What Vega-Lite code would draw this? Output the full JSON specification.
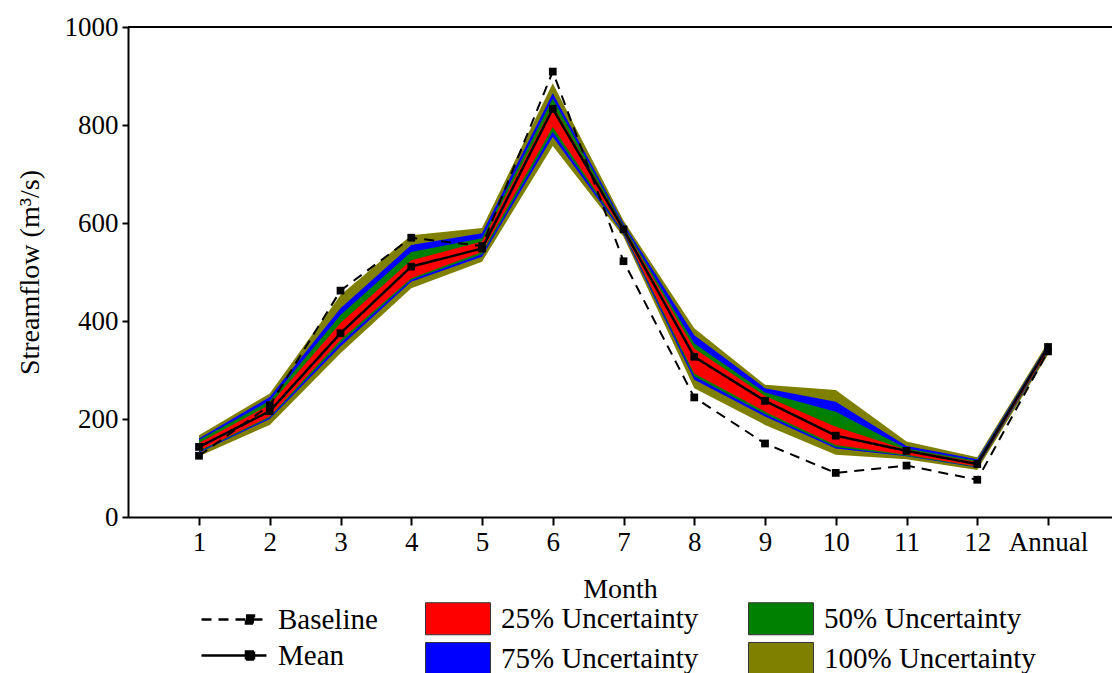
{
  "$schema": "https://vega.github.io/schema/vega-lite/v6.json",
  "width": 984,
  "height": 490,
  "autosize": {"type": "none"},
  "padding": {"left": 128, "top": 27, "right": 0, "bottom": 156},
  "background": "white",
  "config": {
    "view": {"stroke": null},
    "font": "Liberation Serif",
    "axis": {
      "labelFont": "Liberation Serif",
      "titleFont": "Liberation Serif",
      "labelColor": "black",
      "titleColor": "black",
      "domainColor": "black",
      "tickColor": "black",
      "domainWidth": 2,
      "tickWidth": 2,
      "grid": false,
      "labelFontSize": 27,
      "titleFontSize": 28,
      "titleFontWeight": "normal"
    },
    "legend": {
      "labelFont": "Liberation Serif",
      "labelFontSize": 29,
      "labelColor": "black",
      "labelLimit": 400
    }
  },
  "data": {
    "values": [
      {"month": "1", "base": 125, "mean": 143, "lo25": 135, "hi25": 151, "lo50": 133, "hi50": 157, "lo75": 131, "hi75": 160, "lo100": 124, "hi100": 167},
      {"month": "2", "base": 228, "mean": 216, "lo25": 205, "hi25": 229, "lo50": 203, "hi50": 237, "lo75": 200, "hi75": 245, "lo100": 188, "hi100": 252},
      {"month": "3", "base": 462, "mean": 375, "lo25": 361, "hi25": 396, "lo50": 355, "hi50": 412, "lo75": 348, "hi75": 426, "lo100": 334, "hi100": 453},
      {"month": "4", "base": 570, "mean": 511, "lo25": 487, "hi25": 524, "lo50": 484, "hi50": 541, "lo75": 480, "hi75": 555, "lo100": 467, "hi100": 575},
      {"month": "5", "base": 553, "mean": 548, "lo25": 541, "hi25": 562, "lo50": 536, "hi50": 569, "lo75": 531, "hi75": 579, "lo100": 521, "hi100": 590},
      {"month": "6", "base": 909, "mean": 833, "lo25": 796, "hi25": 840, "lo50": 786, "hi50": 854, "lo75": 776, "hi75": 865, "lo100": 757, "hi100": 885},
      {"month": "7", "base": 522, "mean": 587, "lo25": 582, "hi25": 592, "lo50": 580, "hi50": 595, "lo75": 577, "hi75": 599, "lo100": 572, "hi100": 605},
      {"month": "8", "base": 244, "mean": 327, "lo25": 293, "hi25": 344, "lo50": 287, "hi50": 354, "lo75": 280, "hi75": 371, "lo100": 263, "hi100": 385},
      {"month": "9", "base": 150, "mean": 237, "lo25": 215, "hi25": 247, "lo50": 210, "hi50": 254, "lo75": 205, "hi75": 263, "lo100": 188, "hi100": 270},
      {"month": "10", "base": 90, "mean": 166, "lo25": 147, "hi25": 184, "lo50": 143, "hi50": 215, "lo75": 140, "hi75": 235, "lo100": 127, "hi100": 259},
      {"month": "11", "base": 105, "mean": 135, "lo25": 127, "hi25": 137, "lo50": 125, "hi50": 140, "lo75": 124, "hi75": 145, "lo100": 118, "hi100": 154},
      {"month": "12", "base": 76, "mean": 108, "lo25": 103, "hi25": 112, "lo50": 102, "hi50": 115, "lo75": 101, "hi75": 118, "lo100": 96, "hi100": 122},
      {"month": "Annual", "base": 338, "mean": 347, "lo25": 340, "hi25": 349, "lo50": 338, "hi50": 351, "lo75": 336, "hi75": 353, "lo100": 331, "hi100": 357}
    ]
  },
  "layer": [
    {
      "mark": {"type": "area", "opacity": 1},
      "encoding": {
        "x": {
          "field": "month",
          "type": "ordinal",
          "sort": null,
          "scale": {"type": "point", "padding": 0.954, "align": 0.526},
          "axis": {
            "title": "Month",
            "labelAngle": 0,
            "tickSize": 8,
            "labelPadding": 4,
            "titlePadding": 20
          }
        },
        "y": {
          "field": "lo100",
          "type": "quantitative",
          "scale": {"domain": [0, 1000], "nice": false},
          "axis": {
            "title": "Streamflow (m³/s)",
            "values": [0, 200, 400, 600, 800, 1000],
            "format": "d",
            "tickSize": 6,
            "labelPadding": 4,
            "titlePadding": 20
          }
        },
        "y2": {"field": "hi100"},
        "fill": {
          "datum": "100% Uncertainty",
          "type": "nominal",
          "scale": {
            "domain": ["25% Uncertainty", "75% Uncertainty", "50% Uncertainty", "100% Uncertainty"],
            "range": ["#ff0000", "#0000ff", "#008000", "#808000"]
          },
          "legend": {
            "title": null,
            "orient": "none",
            "legendX": 297,
            "legendY": 575,
            "columns": 2,
            "columnPadding": 47,
            "rowPadding": 3,
            "symbolType": "M-1,-1H3.06V1H-1Z",
            "symbolSize": 1024,
            "symbolOpacity": 1,
            "labelOffset": 43,
            "encode": {
              "symbols": {"update": {"stroke": {"value": "#333333"}, "strokeWidth": {"value": 1}, "opacity": {"value": 1}}}
            }
          }
        }
      }
    },
    {
      "mark": {"type": "area", "opacity": 1},
      "encoding": {
        "x": {"field": "month", "type": "ordinal", "sort": null},
        "y": {"field": "lo75", "type": "quantitative"},
        "y2": {"field": "hi75"},
        "fill": {"datum": "75% Uncertainty", "type": "nominal"}
      }
    },
    {
      "mark": {"type": "area", "opacity": 1},
      "encoding": {
        "x": {"field": "month", "type": "ordinal", "sort": null},
        "y": {"field": "lo50", "type": "quantitative"},
        "y2": {"field": "hi50"},
        "fill": {"datum": "50% Uncertainty", "type": "nominal"}
      }
    },
    {
      "mark": {"type": "area", "opacity": 1},
      "encoding": {
        "x": {"field": "month", "type": "ordinal", "sort": null},
        "y": {"field": "lo25", "type": "quantitative"},
        "y2": {"field": "hi25"},
        "fill": {"datum": "25% Uncertainty", "type": "nominal"}
      }
    },
    {
      "mark": {
        "type": "line",
        "color": "black",
        "strokeWidth": 2,
        "point": {"shape": "square", "size": 60, "filled": true, "color": "black"}
      },
      "encoding": {
        "x": {"field": "month", "type": "ordinal", "sort": null},
        "y": {"field": "base", "type": "quantitative"},
        "strokeDash": {
          "datum": "Baseline",
          "type": "nominal",
          "scale": {"domain": ["Baseline", "Mean"], "range": [[10, 7], [1, 0]]},
          "legend": {
            "title": null,
            "orient": "none",
            "legendX": 72,
            "legendY": 575,
            "rowPadding": 3,
            "symbolType": "M-1,0H3.06M1.78,-0.25H2.28V0.25H1.78Z",
            "symbolSize": 1024,
            "symbolStrokeColor": "black",
            "symbolFillColor": "black",
            "symbolStrokeWidth": 2,
            "labelOffset": 43,
            "encode": {
              "symbols": {"update": {"stroke": {"value": "black"}, "strokeWidth": {"value": 2.5}, "fill": {"value": "black"}, "opacity": {"value": 1}}}
            }
          }
        }
      }
    },
    {
      "mark": {
        "type": "line",
        "color": "black",
        "strokeWidth": 2.5,
        "point": {"shape": "square", "size": 60, "filled": true, "color": "black"}
      },
      "encoding": {
        "x": {"field": "month", "type": "ordinal", "sort": null},
        "y": {"field": "mean", "type": "quantitative"},
        "strokeDash": {"datum": "Mean", "type": "nominal"}
      }
    },
    {
      "mark": {"type": "rule", "color": "black", "strokeWidth": 2},
      "encoding": {"y": {"datum": 1000, "type": "quantitative"}}
    }
  ]
}
